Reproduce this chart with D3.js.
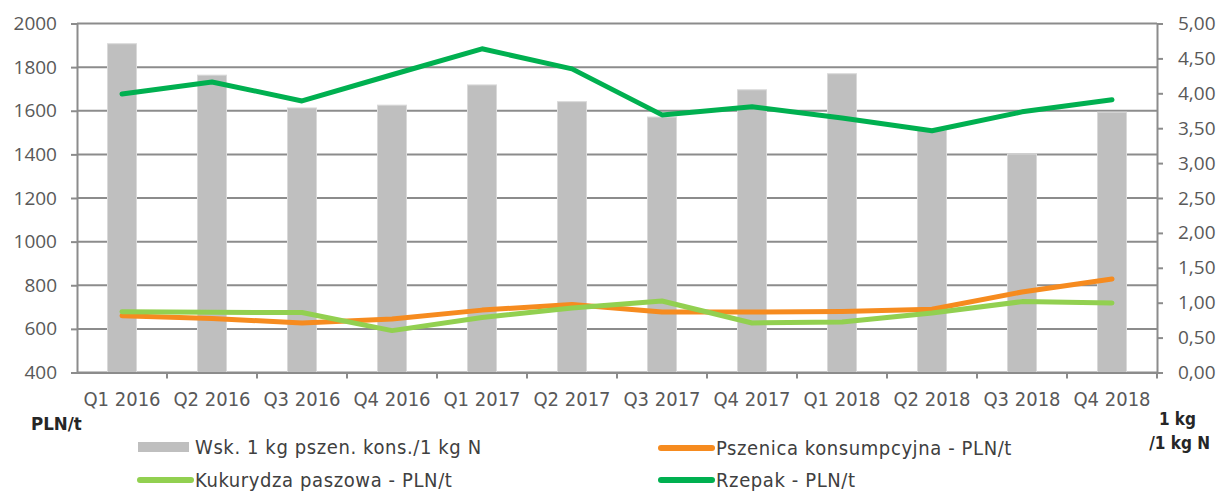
<!DOCTYPE html>
<html>
<head>
<meta charset="utf-8">
<script src="https://cdn.jsdelivr.net/npm/d3@7"></script>
<style>
  body { margin: 0; background: #fff; }
  svg { display: block; }
</style>
</head>
<body>
<div id="chart"></div>
<script>
var width = 1217,
    height = 492;

// data
const quarters = ["Q1 2016", "Q2 2016", "Q3 2016", "Q4 2016", "Q1 2017", "Q2 2017",
                  "Q3 2017", "Q4 2017", "Q1 2018", "Q2 2018", "Q3 2018", "Q4 2018"];
const ratio = [4.71, 4.26, 3.79, 3.83, 4.12, 3.88, 3.66, 4.05, 4.28, 3.47, 3.13, 3.73];
const pszenica = [660, 648, 627, 645, 686, 712, 677, 677, 680, 690, 769, 829];
const kukurydza = [679, 676, 675, 592, 652, 696, 728, 627, 632, 673, 725, 719];
const rzepak = [1677, 1732, 1645, 1765, 1884, 1792, 1581, 1618, 1567, 1508, 1595, 1650];
const leftTicks = [400, 600, 800, 1000, 1200, 1400, 1600, 1800, 2000];
const rightTicks = [0, 0.5, 1, 1.5, 2, 2.5, 3, 3.5, 4, 4.5, 5];

const margin = { left: 77, right: 60, top: 23.5, bottom: 119.5 };

var svg = d3.select("#chart").append("svg")
    .attr("width", width)
    .attr("height", height);

var x = d3.scaleBand()
    .domain(quarters)
    .range([margin.left, width - margin.right]);

var yL = d3.scaleLinear()
    .domain([400, 2000])
    .range([height - margin.bottom, margin.top]);

var yR = d3.scaleLinear()
    .domain([0, 5])
    .range([height - margin.bottom, margin.top]);

const gridColor = "#8c8c8c";
const tickFont = "'Open Sans', sans-serif";
const titleFont = "'DejaVu Sans Condensed', 'DejaVu Sans', sans-serif";

// gridlines
svg.append("g")
    .selectAll("line")
    .data(leftTicks)
    .join("line")
    .attr("x1", margin.left)
    .attr("x2", width - margin.right)
    .attr("y1", d => yL(d))
    .attr("y2", d => yL(d))
    .attr("stroke", gridColor)
    .attr("stroke-width", 2);

// bars
svg.append("g")
    .selectAll("rect")
    .data(ratio)
    .join("rect")
    .attr("x", (d, i) => x(quarters[i]) + x.bandwidth() / 2 - 14.5)
    .attr("width", 29)
    .attr("y", d => yR(d))
    .attr("height", d => yR(0) - yR(d))
    .attr("fill", "#bfbfbf")
    .attr("stroke", "#d9d9d9")
    .attr("stroke-width", 1);

// left axis
var axL = svg.append("g")
    .attr("transform", "translate(" + margin.left + ",0)")
    .call(d3.axisLeft(yL).tickValues(leftTicks).tickSize(6).tickPadding(14).tickFormat(d3.format("d")));
axL.select(".domain").attr("stroke", gridColor).attr("stroke-width", 2);
axL.selectAll(".tick line").attr("stroke", gridColor).attr("stroke-width", 2);
axL.selectAll("text")
    .attr("fill", "#595959")
    .style("font-family", tickFont)
    .style("font-size", "19px");

// right axis
var axR = svg.append("g")
    .attr("transform", "translate(" + (width - margin.right) + ",0)")
    .call(d3.axisRight(yR).tickValues(rightTicks).tickSize(6).tickPadding(15)
        .tickFormat(d => d3.format(".2f")(d).replace(".", ",")));
axR.select(".domain").attr("stroke", gridColor).attr("stroke-width", 2);
axR.selectAll(".tick line").attr("stroke", gridColor).attr("stroke-width", 2);
axR.selectAll("text")
    .attr("fill", "#595959")
    .style("font-family", tickFont)
    .style("font-size", "19px");

// bottom axis
var axB = svg.append("g")
    .attr("transform", "translate(0," + yL(400) + ")")
    .call(d3.axisBottom(x).tickSize(0).tickPadding(19));
axB.select(".domain").attr("stroke", gridColor).attr("stroke-width", 2);
axB.selectAll("text")
    .attr("fill", "#595959")
    .style("font-family", titleFont)
    .style("font-size", "20px");

// category separators on the x axis
svg.append("g")
    .selectAll("line")
    .data(quarters.slice(1).concat(["end"]))
    .join("line")
    .attr("x1", (d, i) => i < quarters.length - 1 ? x(d) : width - margin.right)
    .attr("x2", (d, i) => i < quarters.length - 1 ? x(d) : width - margin.right)
    .attr("y1", yL(400))
    .attr("y2", yL(400) + 6)
    .attr("stroke", gridColor)
    .attr("stroke-width", 2);

// lines
const series = [
    { name: "Pszenica konsumpcyjna - PLN/t", values: pszenica, color: "#f68b1f" },
    { name: "Kukurydza paszowa - PLN/t", values: kukurydza, color: "#92d050" },
    { name: "Rzepak - PLN/t", values: rzepak, color: "#00b050" }
];

var line = d3.line()
    .x((d, i) => x(quarters[i]) + x.bandwidth() / 2)
    .y(d => yL(d));

svg.append("g")
    .selectAll("path")
    .data(series)
    .join("path")
    .attr("d", d => line(d.values))
    .attr("fill", "none")
    .attr("stroke", d => d.color)
    .attr("stroke-width", 5)
    .attr("stroke-linecap", "round")
    .attr("stroke-linejoin", "round");

// axis titles
svg.append("text")
    .attr("x", 31)
    .attr("y", 430)
    .attr("fill", "#262626")
    .style("font-family", titleFont)
    .style("font-weight", "bold")
    .style("font-size", "18.5px")
    .text("PLN/t");

svg.append("text")
    .attr("x", 1196)
    .attr("y", 425)
    .attr("text-anchor", "end")
    .attr("fill", "#262626")
    .style("font-family", titleFont)
    .style("font-weight", "bold")
    .style("font-size", "17px")
    .text("1 kg");

svg.append("text")
    .attr("x", 1210)
    .attr("y", 449)
    .attr("text-anchor", "end")
    .attr("fill", "#262626")
    .style("font-family", titleFont)
    .style("font-weight", "bold")
    .style("font-size", "17px")
    .text("/1 kg N");

// legend
const legendItems = [
    { name: "Wsk. 1 kg pszen. kons./1 kg N", type: "bar", color: "#bfbfbf", x: 138, y: 447 },
    { name: series[0].name, type: "line", color: series[0].color, x: 659, y: 448 },
    { name: series[1].name, type: "line", color: series[1].color, x: 138, y: 480 },
    { name: series[2].name, type: "line", color: series[2].color, x: 659, y: 480 }
];

var lg = svg.append("g")
    .selectAll("g")
    .data(legendItems)
    .join("g")
    .attr("transform", d => "translate(" + d.x + "," + d.y + ")");

lg.filter(d => d.type == "bar")
    .append("rect")
    .attr("x", 0)
    .attr("y", -5)
    .attr("width", 51)
    .attr("height", 10)
    .attr("fill", d => d.color);

lg.filter(d => d.type == "line")
    .append("line")
    .attr("x1", 2)
    .attr("x2", 53)
    .attr("stroke", d => d.color)
    .attr("stroke-width", 6)
    .attr("stroke-linecap", "round");

lg.append("text")
    .attr("x", 57)
    .attr("y", 7)
    .attr("fill", "#404040")
    .style("font-family", titleFont)
    .style("font-size", "20px")
    .style("letter-spacing", "0.6px")
    .text(d => d.name);
</script>
</body>
</html>
